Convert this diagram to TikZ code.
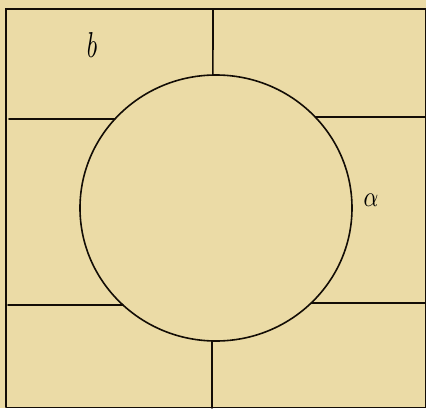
\documentclass[tikz,border=0pt]{standalone}
\begin{document}
\begin{tikzpicture}[x=1pt,y=1pt,
  ink/.style={draw=black!90!brown, line width=1.6pt, line cap=round},
  lbl/.style={inner sep=0pt}]
\definecolor{paper}{HTML}{EBDBA6}
\fill[paper] (0,0) rectangle (426,408);
\useasboundingbox (0,0) rectangle (426,408);
% frame
\draw[ink, line width=1.8pt] (6,1) -- (6,399) -- (426,399);
\draw[ink, line width=1pt] (425,399) -- (425,1) -- (6,1);
% circle
\coordinate (c) at (216,200);
\draw[ink] (c) ellipse [x radius=136pt, y radius=133pt];
% points on circle
\path (c) ++(91.3:136pt and 133pt) coordinate (top)
      (c) ++(268.3:136pt and 133pt) coordinate (bot)
      (c) ++(138:136pt and 133pt) coordinate (lt)
      (c) ++(43.2:136pt and 133pt) coordinate (rt)
      (c) ++(226.8:136pt and 133pt) coordinate (lb)
      (c) ++(-45.6:136pt and 133pt) coordinate (rb);
\coordinate (ft) at (213,399);
\coordinate (fb) at (212,0);
\coordinate (fl1) at (9,289);
\coordinate (fr1) at (426,291);
\coordinate (fl2) at (8,103);
\coordinate (fr2) at (426,105);
\draw[ink] (ft) -- (top);
\draw[ink] (bot) -- (fb);
\draw[ink] (fl1) -- (lt);
\draw[ink] (rt) -- (fr1);
\draw[ink] (fl2) -- (lb);
\draw[ink] (rb) -- (fr2);
\node[lbl] (b) at (92,363) {\scalebox{2.4}[3.6]{$b$}};
\node[lbl] (a) at (371,208) {\scalebox{2.3}[2.9]{$\alpha$}};
\end{tikzpicture}
\end{document}
